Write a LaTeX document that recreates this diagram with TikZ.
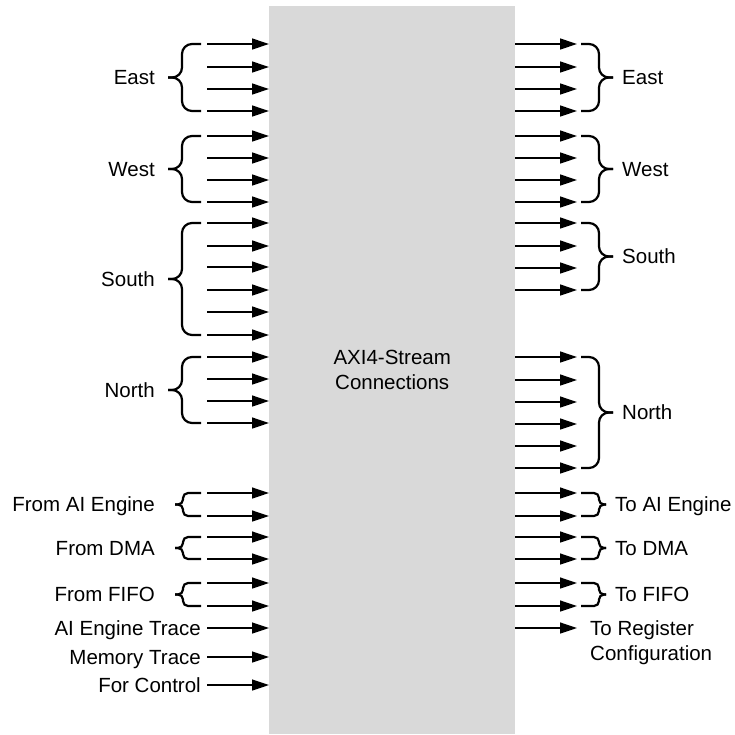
\documentclass[tikz,border=0pt]{standalone}
\usepackage{fontspec}
\setmainfont{Liberation Sans}
\usetikzlibrary{arrows.meta}

\definecolor{streamgray}{RGB}{217,217,217}

% brace: radius, x of ends, top y, bottom y, x of stem, x of tip
\newcommand{\grpbrace}[6]{%
  \draw[brc=#1] (#2,#3) -| (#5,{(#3+#4)/2}) -- (#6,{(#3+#4)/2});
  \draw[brc=#1] (#2,#4) -| (#5,{(#3+#4)/2}) -- (#6,{(#3+#4)/2});}

\begin{document}
\begin{tikzpicture}[x=1pt,y=-1pt,font=\fontsize{20.5}{25}\selectfont,
  lbl/.style={inner sep=0pt, text height=14.7pt, text depth=0pt},
  arr/.style={-{Triangle[length=17pt,width=11pt]}, line width=1.3pt},
  brc/.style={line width=2.2pt, rounded corners=#1}]
\useasboundingbox (0,0) rectangle (735,734);

\node[fill=streamgray, inner sep=0pt, minimum width=246pt, minimum height=728pt, anchor=north west] (box) at (269,6) {};
\node[align=center] (axi) at (box.center) {AXI4-Stream\\Connections};

% inputs
\foreach \y in {44,67,89,111,136,158,180,202,223,246,267,290,312,335,357,379,401,423,493,516,537,559,583,606}
  \draw[arr] (207,\y) -- (box.west |- 0,\y);
\foreach \t/\b in {44/111,136/202,223/335,357/423}
  {\grpbrace{10}{201}{\t}{\b}{182}{168}}
\foreach \t/\b in {493/516,537/559,583/606}
  {\grpbrace{5}{201}{\t}{\b}{183}{175}}

\node[lbl, anchor=east] (ein) at (155,77.5) {East};
\node[lbl, anchor=east] (win) at (155,169) {West};
\node[lbl, anchor=east] (sin) at (155,279) {South};
\node[lbl, anchor=east] (nin) at (155,390) {North};
\node[lbl, anchor=east] (aiin) at (155,504.5) {From AI Engine};
\node[lbl, anchor=east] (dmain) at (155,548) {From DMA};
\node[lbl, anchor=east] (fifoin) at (155,594.5) {From FIFO};
\node[lbl, anchor=east] (aitrace) at (201,628) {AI Engine Trace};
\node[lbl, anchor=east] (memtrace) at (201,657) {Memory Trace};
\node[lbl, anchor=east] (ctrl) at (201,685) {For Control};

\draw[arr, shorten <=6pt] (aitrace) -- (box.west |- aitrace);
\draw[arr, shorten <=6pt] (memtrace) -- (box.west |- memtrace);
\draw[arr, shorten <=6pt] (ctrl) -- (box.west |- ctrl);

% outputs
\foreach \y in {44,67,89,111,136,158,180,202,223,246,268,290,357,380,402,424,446,468,493,516,537,559,583,606,628}
  \draw[arr] (box.east |- 0,\y) -- (577,\y);
\foreach \t/\b in {44/111,136/202,223/290,357/468}
  {\grpbrace{10}{581}{\t}{\b}{599}{613}}
\foreach \t/\b in {493/516,537/559,583/606}
  {\grpbrace{5}{581}{\t}{\b}{599}{606}}

\node[lbl, anchor=west] (eout) at (622,77.5) {East};
\node[lbl, anchor=west] (wout) at (622,169) {West};
\node[lbl, anchor=west] (sout) at (622,256.5) {South};
\node[lbl, anchor=west] (nout) at (622,412.5) {North};
\node[lbl, anchor=west] (aiout) at (615,504.5) {To AI Engine};
\node[lbl, anchor=west] (dmaout) at (615,548) {To DMA};
\node[lbl, anchor=west] (fifoout) at (615,594.5) {To FIFO};
\node[inner sep=0pt, align=left, anchor=north west] (regout) at (590,620.6) {To Register\\Configuration};
\end{tikzpicture}
\end{document}
